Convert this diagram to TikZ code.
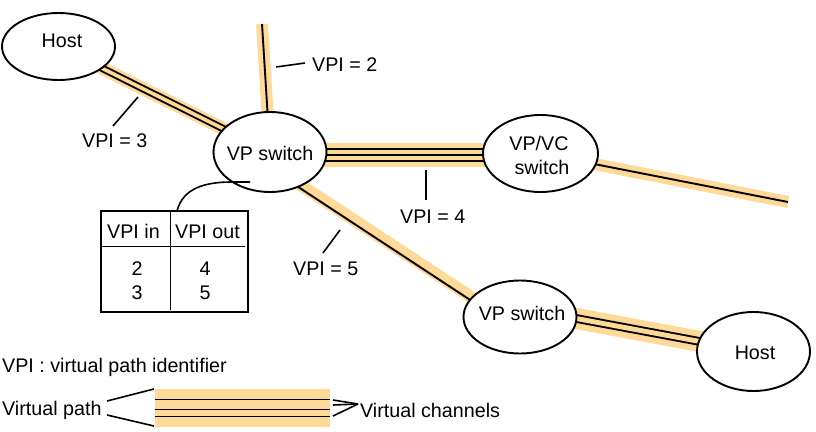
\documentclass[tikz,border=0pt]{standalone}
\usepackage{fontspec}
\setmainfont{Liberation Sans}
\usetikzlibrary{shapes.geometric,calc}
\pgfdeclarelayer{bg}
\pgfsetlayers{bg,main}
\definecolor{bandc}{RGB}{255,217,152}
\begin{document}
\begin{tikzpicture}[x=1pt,y=-1pt, line width=1.9pt,
  every node/.style={font=\fontsize{19.7}{24}\selectfont, inner sep=0pt},
  ell/.style={draw, ellipse, fill=white, line width=1.9pt},
  lbl/.style={anchor=base west},
  ctr/.style={anchor=base},
  vpband/.style={draw=bandc, line width=#1},
  chan/.style={draw=black, line width=1.9pt},
  dchan/.style={draw=black, line width=1.9pt, double=bandc, double distance=#1},
  ptr/.style={draw=black, line width=1.6pt},
]
\useasboundingbox (0,0) rectangle (816,431);

% switches and hosts
\node[ell, minimum width=113pt, minimum height=67pt] (h1) at (58.5,46.5) {};
\node[ell, minimum width=113pt, minimum height=80pt] (vp1) at (270,152) {};
\node[ell, minimum width=115pt, minimum height=77pt] (vpvc) at (540.5,153.5) {};
\node[ell, minimum width=113pt, minimum height=73pt] (vp2) at (520,317) {};
\node[ell, minimum width=113pt, minimum height=79pt] (h2) at (753.5,351.5) {};

\node[ctr] (th1) at (62,47) {Host};
\node[ctr] (tv1) at (270,160) {VP switch};
\node[ctr] (tvc1) at (539,150) {VP/VC};
\node[ctr] (tvc2) at (542,174) {switch};
\node[ctr] (tv2) at (522,320) {VP switch};
\node[ctr] (th2) at (755,359) {Host};

\coordinate (topend) at (262,24);
\coordinate (rend) at (788,202);

\begin{pgfonlayer}{bg}
  % Host - VP switch (VPI = 3)
  \draw[vpband=13pt] (h1.center) -- (vp1.center);
  \draw[dchan=3.6pt] (h1.center) -- (vp1.center);
  % VP switch - top (VPI = 2)
  \draw[vpband=12pt] (vp1.center) -- (topend);
  \draw[chan] (vp1.center) -- (topend);
  % VP switch - VP/VC switch (VPI = 4)
  \draw[vpband=24pt] ([yshift=-3pt]vp1.center) -- ([yshift=-1.5pt]vpvc.center);
  \draw[dchan=10.1pt] ([yshift=-3pt]vp1.center) -- ([yshift=-1.5pt]vpvc.center);
  \draw[chan] ([yshift=-3pt]vp1.center) -- ([yshift=-1.5pt]vpvc.center);
  % VP/VC switch - right
  \draw[vpband=12pt] (vpvc.center) -- (rend);
  \draw[chan] (vpvc.center) -- (rend);
  % VP switch - VP switch (VPI = 5)
  \draw[vpband=12pt] ($(vp1.center)+(11.6,20.5)$) -- ($(vp2.center)+(-28.4,-6.5)$);
  \draw[chan] ($(vp1.center)+(10,23)$) -- ($(vp2.center)+(-30,-4)$);
  % VP switch - Host
  \draw[vpband=21pt] ($(vp2.center)+(0,-9)$) -- (h2.center);
  \draw[dchan=4.9pt] ($(vp2.center)+(0,-9)$) -- (h2.center);
\end{pgfonlayer}

% VPI labels and pointers
\node[lbl] (l2) at (312,71) {VPI = 2};
\coordinate (p2a) at (276,67); \coordinate (p2b) at (305,63);
\draw[ptr] (p2a) -- (p2b);
\node[lbl] (l3) at (82,147) {VPI = 3};
\coordinate (p3a) at (113,126); \coordinate (p3b) at (138,97);
\draw[ptr] (p3a) -- (p3b);
\node[lbl] (l4) at (400,223) {VPI = 4};
\coordinate (p4a) at (426,170); \coordinate (p4b) at (426,200);
\draw[ptr] (p4a) -- (p4b);
\node[lbl] (l5) at (293,275) {VPI = 5};
\coordinate (p5a) at (323,253); \coordinate (p5b) at (340,230);
\draw[ptr] (p5a) -- (p5b);

% table
\node[draw, line width=1.9pt, minimum width=147pt, minimum height=101pt] (tbl) at (174.5,261.5) {};
\draw (100,246) -- (245,246);
\draw (170,210) -- (170,310);
\node[lbl] (tin) at (107,238) {VPI in};
\node[lbl] (tout) at (175,238) {VPI out};
\node[ctr] (r1a) at (137,275) {2};
\node[ctr] (r2a) at (137,299) {3};
\node[ctr] (r1b) at (205,275) {4};
\node[ctr] (r2b) at (205,299) {5};
\coordinate (tc) at (177,211);
\coordinate (cm) at (232,182);
\coordinate (ce) at (250,182);
\draw[line width=1.6pt] (tc) .. controls (183,188) and (205,182) .. (cm) -- (ce);

% legend
\node[lbl] (leg1) at (2,372) {VPI : virtual path identifier};
\node[lbl] (leg2) at (2,415) {Virtual path};
\node[lbl] (leg3) at (360,417) {Virtual channels};
\fill[bandc] (155,389) rectangle (330,427);
\draw (155,399) -- (330,399);
\draw (155,409) -- (330,409);
\draw (155,416) -- (330,416);
\draw[line width=1.6pt] (107,401) -- (154,389);
\draw[line width=1.6pt] (107,415) -- (154,426);
\draw[line width=1.6pt] (333,400) -- (358,404);
\draw[line width=1.6pt] (333,405) -- (358,404);
\draw[line width=1.6pt] (333,416) -- (358,404);
\end{tikzpicture}
\end{document}
